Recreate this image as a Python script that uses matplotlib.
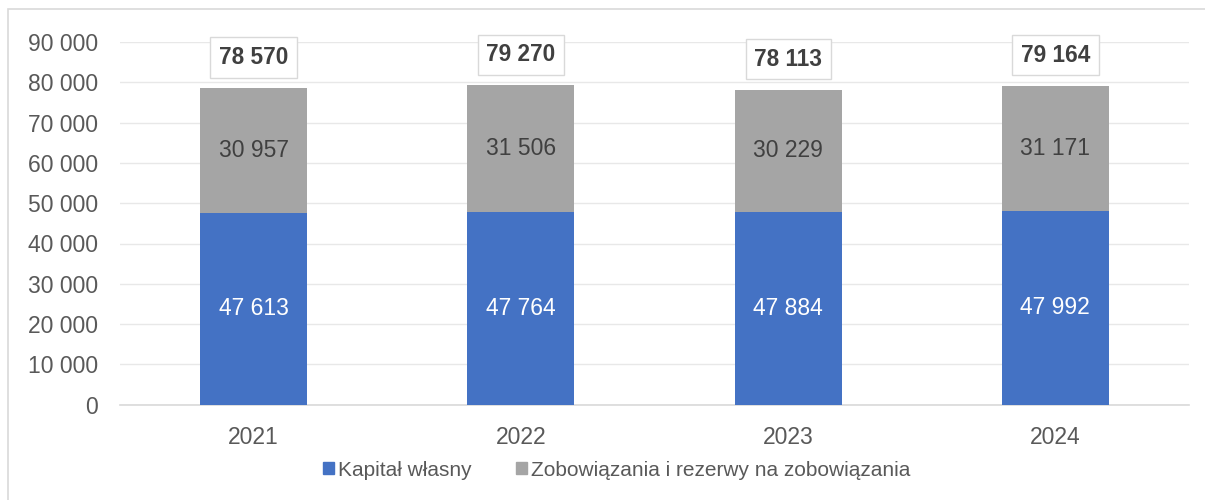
import numpy as np
import matplotlib
matplotlib.use('Agg')
import matplotlib.pyplot as plt
from matplotlib.patches import Rectangle

plt.rcParams['font.family'] = ['Liberation Sans', 'DejaVu Sans']

years = ['2021', '2022', '2023', '2024']
kapital = [47613, 47764, 47884, 47992]
zobowiazania = [30957, 31506, 30229, 31171]
totals = [78570, 79270, 78113, 79164]
yticks = [0, 10000, 20000, 30000, 40000, 50000, 60000, 70000, 80000, 90000]

blue = '#4472C4'
gray = '#A5A5A5'
txt = '#595959'
grid_c = '#D9D9D9'


def fmt(v):
    return '{:,}'.format(v).replace(',', ' ')


fig = plt.figure(figsize=(12.05, 5), dpi=100)
ax = fig.add_axes([120/1205, 1-404.7/500, (1189-120)/1205, (404.7-42)/500])

x = np.arange(len(years))
w = 0.4
b1 = ax.bar(x, kapital, w, color=blue, zorder=3)
b2 = ax.bar(x, zobowiazania, w, bottom=kapital, color=gray, zorder=3)

for i in range(len(years)):
    ax.text(x[i], kapital[i]/2, fmt(kapital[i]), ha='center', va='center',
            color='white', fontsize=16.5, zorder=4)
    ax.text(x[i], kapital[i]+zobowiazania[i]/2, fmt(zobowiazania[i]), ha='center', va='center',
            color='#404040', fontsize=16.5, zorder=4)
    # total on top, in a small framed box
    ax.annotate(fmt(totals[i]), (x[i], totals[i]), xytext=(0, 22), textcoords='offset points',
                ha='center', va='center', fontsize=16.3, fontweight='bold', color='#404040',
                bbox=dict(boxstyle='square,pad=0.38', fc='white', ec=grid_c, lw=1), zorder=5)

ax.set_xlim(-0.5, 3.5)
ax.set_ylim(0, 90000)
ax.set_yticks(yticks)
ax.set_yticklabels([fmt(v) for v in yticks])
ax.set_xticks(x)
ax.set_xticklabels(years)
ax.tick_params(axis='y', length=0, pad=16, labelsize=16.5, labelcolor=txt)
ax.tick_params(axis='x', length=0, pad=15.5, labelsize=16.5, labelcolor=txt)
ax.grid(axis='y', color=grid_c, lw=1, alpha=0.6, zorder=0)
for s in ['top', 'right', 'left']:
    ax.spines[s].set_visible(False)
ax.spines['bottom'].set_color(grid_c)
ax.spines['bottom'].set_linewidth(1.2)

handles = [Rectangle((0, 0), 1, 1, color=blue), Rectangle((0, 0), 1, 1, color=gray)]
leg = fig.legend(handles, ['Kapitał własny', 'Zobowiązania i rezerwy na zobowiązania'],
                 loc='center', bbox_to_anchor=(616.5/1205, 1-470/500), ncol=2, frameon=False,
                 fontsize=15, handlelength=0.55, handleheight=0.55, handletextpad=0.2,
                 columnspacing=2.1, labelcolor=txt, borderpad=0)

# outer frame (only top and left edges are visible in the picture)
fig.patches.append(Rectangle((8/1205, -0.1), 1.2, 1-9/500+0.1, transform=fig.transFigure,
                             fill=False, ec=grid_c, lw=1.2))

fig.savefig('out.png', dpi=100)
